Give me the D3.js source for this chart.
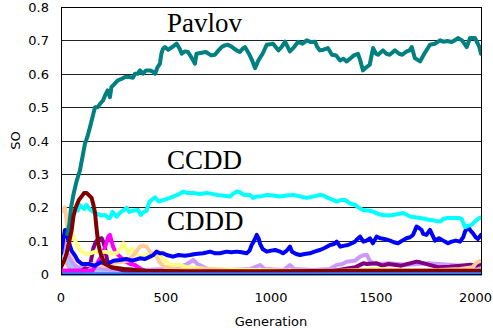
<!DOCTYPE html>
<html>
<head>
<meta charset="utf-8">
<script src="https://cdn.jsdelivr.net/npm/d3@7"></script>
<style>
  html, body { margin: 0; padding: 0; background: #fff; }
  svg { display: block; }
</style>
</head>
<body>
<svg id="chart" width="493" height="332"></svg>
<script>
// y ticks and x ticks
const yTicks = [0, 0.1, 0.2, 0.3, 0.4, 0.5, 0.6, 0.7, 0.8];
const xTicks = [0, 500, 1000, 1500, 2000];

// series: [generation, SO]
const pinkSO = [[0,0.03],[10,0.045],[25,0.035],[40,0.02],[80,0.008],[300,0.005],[2000,0.003]];
const lightBlueSO = [[0,0.05],[10,0.08],[20,0.07],[35,0.04],[50,0.02],[80,0.01],[300,0.006],[2000,0.005]];
const lavenderSO = [[0,0.06],[8,0.09],[15,0.097],[25,0.07],[40,0.05],[60,0.03],[80,0.02],[120,0.018],[160,0.02],[200,0.015],[260,0.012],[300,0.015],[400,0.012],[500,0.015],[560,0.02],[600,0.03],[630,0.042],[650,0.03],[700,0.015],[800,0.012],[900,0.015],[948,0.027],[970,0.015],[1060,0.012],[1090,0.027],[1110,0.015],[1200,0.012],[1280,0.015],[1313,0.027],[1340,0.03],[1360,0.037],[1400,0.04],[1424,0.052],[1445,0.057],[1457,0.057],[1470,0.04],[1485,0.032],[1520,0.03],[1560,0.032],[1600,0.03],[1650,0.028],[1700,0.03],[1750,0.032],[1800,0.03],[1850,0.028],[1900,0.025],[1950,0.022],[2000,0.022]];
const purpleSO = [[0,0.01],[100,0.01],[140,0.03],[154,0.077],[165,0.095],[170,0.1],[180,0.105],[194,0.107],[202,0.095],[210,0.077],[220,0.04],[240,0.02],[300,0.01],[500,0.005],[1000,0.005],[1300,0.01],[1400,0.02],[1440,0.032],[1457,0.03],[1503,0.032],[1530,0.025],[1560,0.03],[1620,0.025],[1693,0.037],[1710,0.035],[1750,0.028],[1800,0.02],[1850,0.022],[1900,0.025],[1950,0.028],[1975,0.025],[2000,0.03]];
const magentaSO = [[0,0.01],[150,0.01],[190,0.05],[210,0.08],[225,0.112],[233,0.117],[240,0.1],[248,0.082],[260,0.065],[281,0.052],[300,0.04],[330,0.03],[352,0.027],[380,0.015],[420,0.005],[2000,0.005]];
const yellowSO = [[0,0.1],[15,0.13],[35,0.142],[45,0.13],[58,0.117],[70,0.095],[90,0.072],[100,0.067],[120,0.06],[140,0.062],[162,0.067],[185,0.064],[210,0.067],[235,0.062],[265,0.062],[281,0.075],[297,0.092],[310,0.075],[320,0.062],[337,0.077],[355,0.06],[376,0.052],[400,0.055],[420,0.06],[440,0.062],[455,0.062],[475,0.05],[490,0.042],[519,0.027],[567,0.027],[600,0.02],[700,0.015],[900,0.012],[1100,0.01],[1300,0.008],[1500,0.015],[1700,0.01],[2000,0.01]];
const peachSO = [[0,0.185],[5,0.195],[11,0.19],[18,0.2],[25,0.17],[35,0.107],[45,0.08],[59,0.052],[75,0.04],[98,0.032],[130,0.027],[160,0.03],[200,0.025],[240,0.032],[289,0.037],[320,0.04],[350,0.06],[376,0.082],[392,0.085],[408,0.082],[425,0.065],[440,0.06],[455,0.052],[470,0.035],[490,0.022],[530,0.015],[600,0.012],[700,0.015],[800,0.01],[1000,0.008],[1200,0.01],[1400,0.01],[1600,0.01],[1800,0.012],[1900,0.015],[1960,0.02],[1980,0.035],[2000,0.04]];
const cdddSO = [[0,0.06],[10,0.1],[19,0.132],[28,0.12],[35,0.1],[50,0.07],[67,0.055],[80,0.04],[100,0.03],[130,0.03],[160,0.025],[190,0.035],[220,0.03],[250,0.04],[280,0.042],[310,0.045],[340,0.04],[376,0.047],[400,0.045],[424,0.052],[440,0.057],[455,0.067],[470,0.062],[486,0.062],[503,0.057],[533,0.052],[560,0.057],[590,0.055],[614,0.057],[640,0.06],[677,0.062],[710,0.067],[735,0.062],[757,0.062],[789,0.067],[810,0.065],[836,0.067],[860,0.065],[884,0.062],[898,0.07],[908,0.087],[920,0.1],[932,0.117],[942,0.105],[948,0.09],[960,0.075],[980,0.067],[1000,0.07],[1020,0.072],[1040,0.068],[1057,0.062],[1075,0.07],[1090,0.082],[1100,0.067],[1120,0.06],[1138,0.057],[1160,0.06],[1185,0.062],[1210,0.068],[1233,0.072],[1255,0.078],[1281,0.087],[1300,0.09],[1313,0.097],[1330,0.082],[1350,0.085],[1367,0.087],[1385,0.092],[1400,0.097],[1412,0.105],[1424,0.112],[1440,0.097],[1455,0.1],[1471,0.107],[1485,0.092],[1503,0.112],[1520,0.107],[1540,0.105],[1567,0.1],[1585,0.095],[1605,0.092],[1625,0.1],[1645,0.107],[1662,0.11],[1676,0.117],[1685,0.13],[1693,0.142],[1705,0.138],[1717,0.132],[1725,0.12],[1740,0.117],[1757,0.132],[1770,0.115],[1781,0.1],[1800,0.107],[1820,0.1],[1843,0.092],[1860,0.097],[1880,0.1],[1900,0.097],[1915,0.11],[1924,0.127],[1938,0.142],[1950,0.13],[1962,0.122],[1975,0.11],[1985,0.105],[2000,0.117]];
const ccddSO = [[80,0.19],[88,0.207],[100,0.2],[110,0.195],[122,0.207],[135,0.195],[146,0.19],[160,0.183],[175,0.18],[190,0.175],[210,0.177],[225,0.168],[233,0.168],[245,0.186],[265,0.172],[280,0.183],[295,0.19],[313,0.198],[325,0.186],[345,0.19],[367,0.192],[380,0.177],[395,0.186],[408,0.19],[420,0.215],[432,0.222],[448,0.23],[465,0.217],[490,0.222],[519,0.228],[545,0.235],[565,0.24],[581,0.247],[600,0.243],[630,0.243],[660,0.24],[694,0.243],[720,0.24],[741,0.237],[770,0.235],[805,0.232],[820,0.24],[836,0.247],[852,0.245],[870,0.237],[900,0.237],[914,0.228],[930,0.232],[948,0.232],[980,0.237],[1010,0.235],[1043,0.232],[1075,0.235],[1105,0.237],[1140,0.232],[1170,0.228],[1200,0.232],[1233,0.237],[1250,0.235],[1271,0.228],[1295,0.222],[1313,0.217],[1335,0.222],[1352,0.222],[1375,0.212],[1400,0.207],[1420,0.198],[1438,0.192],[1460,0.19],[1486,0.187],[1510,0.18],[1533,0.177],[1560,0.175],[1580,0.177],[1605,0.18],[1629,0.183],[1645,0.178],[1662,0.172],[1685,0.17],[1710,0.168],[1735,0.165],[1757,0.162],[1780,0.16],[1805,0.157],[1820,0.165],[1840,0.168],[1867,0.168],[1895,0.168],[1908,0.165],[1918,0.15],[1924,0.14],[1940,0.145],[1955,0.147],[1971,0.157],[1985,0.165],[2000,0.17]];
const pavlovSO = [[30,0.12],[40,0.15],[48,0.2],[60,0.24],[75,0.28],[90,0.31],[105,0.36],[114,0.39],[125,0.41],[138,0.44],[150,0.47],[162,0.5],[175,0.5],[186,0.51],[200,0.52],[210,0.535],[222,0.55],[233,0.53],[240,0.56],[255,0.57],[271,0.58],[290,0.585],[305,0.59],[325,0.59],[343,0.588],[352,0.6],[365,0.6],[376,0.61],[390,0.6],[405,0.61],[424,0.61],[440,0.605],[448,0.6],[460,0.62],[471,0.63],[478,0.66],[486,0.675],[495,0.68],[510,0.672],[530,0.68],[551,0.69],[565,0.675],[575,0.66],[590,0.667],[605,0.665],[620,0.65],[638,0.63],[645,0.66],[670,0.663],[690,0.665],[715,0.655],[733,0.657],[750,0.67],[765,0.68],[780,0.685],[795,0.687],[815,0.68],[836,0.67],[852,0.665],[865,0.675],[876,0.68],[895,0.66],[910,0.64],[924,0.617],[940,0.64],[960,0.66],[980,0.687],[1010,0.69],[1035,0.67],[1050,0.68],[1067,0.696],[1090,0.667],[1110,0.68],[1129,0.696],[1150,0.69],[1170,0.7],[1190,0.695],[1210,0.696],[1220,0.68],[1233,0.67],[1250,0.672],[1271,0.677],[1290,0.657],[1310,0.655],[1329,0.64],[1345,0.645],[1360,0.637],[1380,0.647],[1395,0.655],[1414,0.66],[1425,0.64],[1438,0.61],[1455,0.62],[1470,0.627],[1486,0.677],[1500,0.66],[1510,0.657],[1533,0.67],[1550,0.66],[1565,0.657],[1590,0.67],[1610,0.66],[1625,0.657],[1646,0.667],[1660,0.67],[1670,0.68],[1685,0.647],[1710,0.637],[1730,0.66],[1757,0.687],[1780,0.69],[1805,0.7],[1820,0.696],[1840,0.698],[1860,0.695],[1875,0.7],[1890,0.707],[1910,0.7],[1932,0.68],[1948,0.707],[1971,0.707],[1985,0.69],[1992,0.68],[2000,0.66]];
const maroonSO = [[0,0.02],[15,0.04],[27,0.062],[40,0.1],[51,0.132],[59,0.172],[68,0.195],[75,0.207],[85,0.222],[98,0.232],[110,0.243],[122,0.243],[135,0.235],[146,0.228],[155,0.205],[162,0.183],[170,0.132],[178,0.09],[186,0.067],[195,0.05],[210,0.03],[240,0.02],[300,0.015],[400,0.01],[600,0.008],[1000,0.008],[1400,0.01],[2000,0.01]];
const baseSO = [[0,0],[2000,0]];

// draw order back to front
const series = [
  {name: "pink", data: pinkSO, color: "#ff99cc"},
  {name: "lightblue", data: lightBlueSO, color: "#99ccff"},
  {name: "lavender", data: lavenderSO, color: "#cc99ff"},
  {name: "purple", data: purpleSO, color: "#800080"},
  {name: "magenta", data: magentaSO, color: "#ff00ff"},
  {name: "yellow", data: yellowSO, color: "#ffff80"},
  {name: "peach", data: peachSO, color: "#ffcc99"},
  {name: "CDDD", data: cdddSO, color: "#0000ff"},
  {name: "CCDD", data: ccddSO, color: "#00ffff"},
  {name: "Pavlov", data: pavlovSO, color: "#008080"},
  {name: "maroon", data: maroonSO, color: "#800000"},
  {name: "base", data: baseSO, color: "#3a76f2"}
];

const labels = [
  {text: "Pavlov", gen: 505, so: 0.725},
  {text: "CCDD", gen: 505, so: 0.315},
  {text: "CDDD", gen: 505, so: 0.132}
];

const margin = {left: 61, right: 12, top: 7, bottom: 58};
const W = 493, H = 332;

const svg = d3.select("#chart");

const x = d3.scaleLinear().domain([0, 2000]).range([margin.left, W - margin.right]);
const y = d3.scaleLinear().domain([0, 0.8]).range([H - margin.bottom, margin.top]);

// gridlines
svg.append("g")
  .selectAll("line")
  .data(yTicks.slice(1))
  .enter().append("line")
  .attr("x1", x(0)).attr("x2", x(2000))
  .attr("y1", d => Math.round(y(d)) + 0.5)
  .attr("y2", d => Math.round(y(d)) + 0.5)
  .attr("stroke", "#222")
  .attr("stroke-width", 1);

// clip
svg.append("clipPath").attr("id", "plotclip")
  .append("rect")
  .attr("x", x(0)).attr("y", y(0.8))
  .attr("width", x(2000) - x(0) + 1)
  .attr("height", y(0) - y(0.8) + 3);

const line = d3.line()
  .x(d => x(d[0]))
  .y(d => y(d[1]));

svg.append("g")
  .attr("clip-path", "url(#plotclip)")
  .selectAll("path")
  .data(series)
  .enter().append("path")
  .attr("d", d => line(d.data))
  .attr("fill", "none")
  .attr("stroke", d => d.color)
  .attr("stroke-width", d => d.name == "base" ? 3.5 : 4)
  .attr("stroke-linejoin", "round")
  .attr("stroke-linecap", "round");

// frame
svg.append("rect")
  .attr("x", x(0) + 0.5).attr("y", Math.round(y(0.8)) + 0.5)
  .attr("width", x(2000) - x(0))
  .attr("height", Math.round(y(0)) - Math.round(y(0.8)))
  .attr("fill", "none")
  .attr("stroke", "#000")
  .attr("stroke-width", 1);

// y axis labels
svg.append("g")
  .selectAll("text")
  .data(yTicks)
  .enter().append("text")
  .attr("x", 49)
  .attr("y", d => y(d) + 5)
  .attr("text-anchor", "end")
  .style("font-family", "DejaVu Sans")
  .style("font-size", "13px")
  .text(d => d === 0 ? "0" : d.toFixed(1));

// x axis labels (last one kept inside the window)
svg.append("g")
  .selectAll("text")
  .data(xTicks)
  .enter().append("text")
  .attr("x", d => d === 2000 ? W - 1 : x(d))
  .attr("y", 302)
  .attr("text-anchor", d => d === 2000 ? "end" : "middle")
  .style("font-family", "DejaVu Sans")
  .style("font-size", "13px")
  .text(d => d);

// axis titles
svg.append("text")
  .attr("x", (x(0) + x(2000)) / 2)
  .attr("y", 326)
  .attr("text-anchor", "middle")
  .style("font-family", "DejaVu Sans")
  .style("font-size", "13px")
  .text("Generation");

svg.append("text")
  .attr("transform", "translate(20," + (y(0.4)) + ")rotate(-90)")
  .attr("text-anchor", "middle")
  .style("font-family", "DejaVu Sans")
  .style("font-size", "13px")
  .text("SO");

// strategy labels
svg.append("g")
  .selectAll("text")
  .data(labels)
  .enter().append("text")
  .attr("x", d => x(d.gen))
  .attr("y", d => y(d.so))
  .style("font-family", "Liberation Serif")
  .style("font-size", "27px")
  .text(d => d.text);
</script>
</body>
</html>
